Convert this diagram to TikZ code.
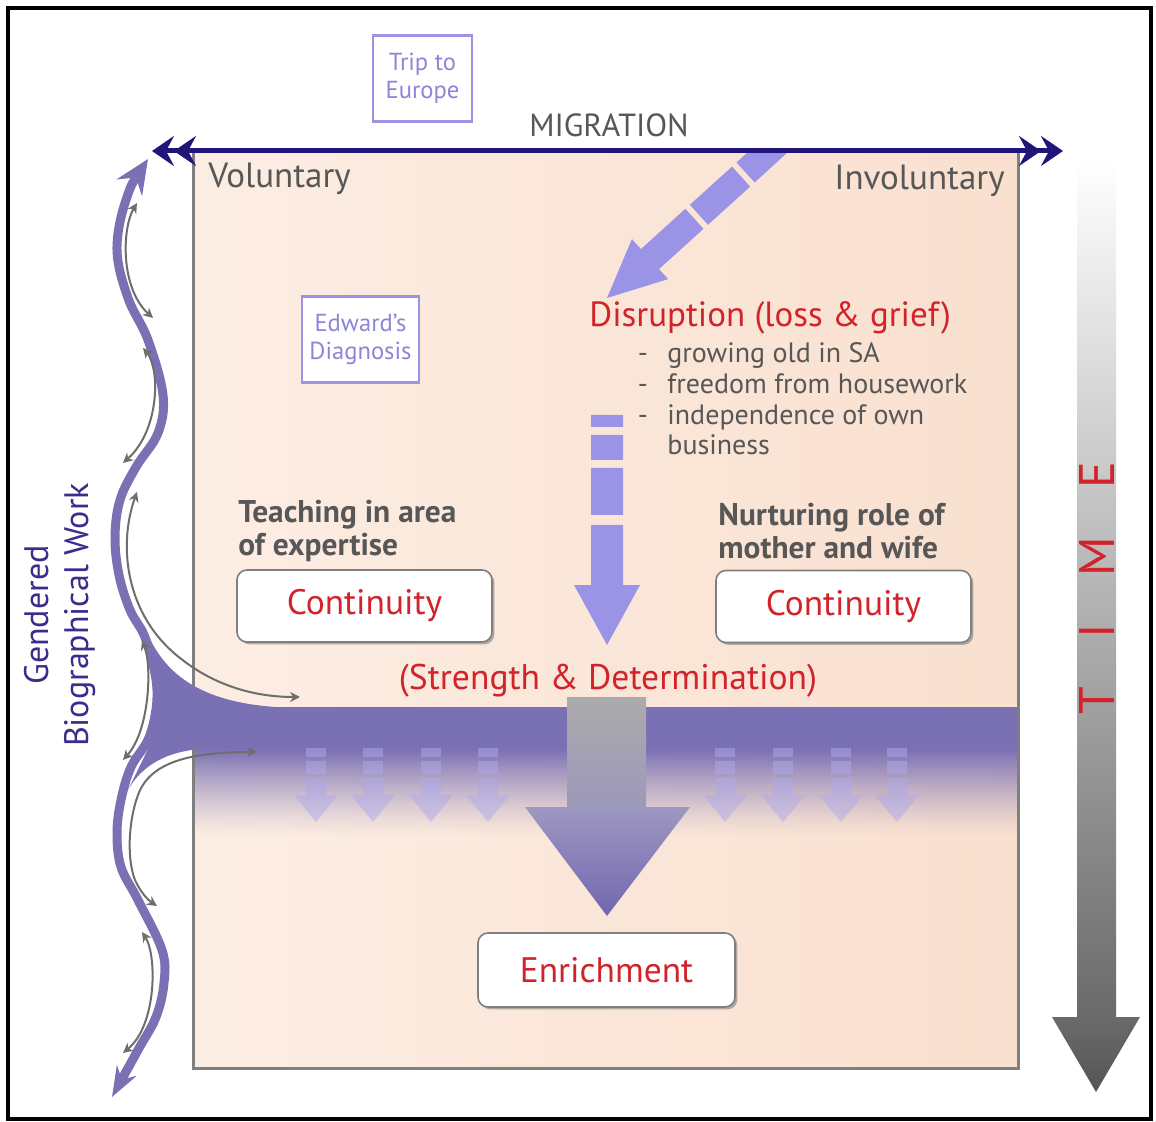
\documentclass[tikz,border=0pt]{standalone}
\usepackage{fontspec}
\setmainfont{PT Sans}
\usetikzlibrary{arrows.meta,shadows}
\definecolor{Navy}{HTML}{22157A}
\definecolor{Lilac}{HTML}{9B94E6}
\definecolor{LilacText}{HTML}{8C86D8}
\definecolor{Band}{HTML}{7A70B4}
\definecolor{Plum}{HTML}{3B2C8E}
\definecolor{Crimson}{HTML}{D2232A}
\definecolor{Slate}{HTML}{575757}
\definecolor{PeachL}{HTML}{FCEDE3}
\definecolor{PeachR}{HTML}{F9E0CF}
\definecolor{Frame}{HTML}{7F7F7F}
\definecolor{Steel}{HTML}{6E6E6E}
\definecolor{ShaftTop}{HTML}{ABABAB}
\definecolor{ShaftLow}{HTML}{9C98BA}
\definecolor{HeadTop}{HTML}{9D98C2}
\definecolor{HeadLow}{HTML}{7266B0}
\definecolor{TimeGray}{HTML}{6A6A6A}
\definecolor{TimeDark}{HTML}{555555}

\begin{document}
\begin{tikzpicture}[x=0.5pt,y=-0.5pt,
  every node/.style={inner sep=0pt,align=center},
  note/.style={draw=Lilac,line width=1.4pt,fill=white,text=LilacText,font=\fontsize{12.3}{14}\selectfont,minimum height=43pt},
  cbox/.style={draw=Frame,line width=0.8pt,rounded corners=5pt,fill=white,text=Crimson,font=\fontsize{17.7}{20}\selectfont,minimum width=127.5pt,minimum height=36pt,drop shadow={shadow xshift=1.2pt,shadow yshift=-1.2pt,fill=gray,opacity=0.6}},
  redtxt/.style={text=Crimson,font=\fontsize{17.5}{20}\selectfont},
  side/.style={text=Slate,font=\fontsize{17.5}{20}\selectfont},
  tag/.style={text=Slate,font=\bfseries\fontsize{15.7}{16.5}\selectfont,align=left,anchor=west},
  lst/.style={text=Slate,font=\fontsize{14}{16}\selectfont},
  link/.style={Steel,line width=1pt,arrows={Stealth[length=5pt,width=5pt]-Stealth[length=5pt,width=5pt]}}]
  \useasboundingbox (0,0) rectangle (1156,1122);
  \fill[white] (0,0) rectangle (1156,1122);
  \draw[line width=1.6pt] (8,8) rectangle (1151,1119);

  \shade[left color=PeachL,right color=PeachR] (193,152) rectangle (1018,1068);
  \fill[Band] (195,707) rectangle (1017,749);
  \foreach \i in {0,...,43}{
    \fill[Band,opacity={(1-\i/44)^1.3}] (195,748+2*\i) rectangle (1017,750.2+2*\i);
  }
  \draw[Frame,line width=1.5pt] (193,152) rectangle (1018,1068);

  \foreach \x in {316,373,431,488,725,783,841,897}{
    \fill[Lilac!80!white,opacity=0.5] (\x-10,748) rectangle (\x+10,757) (\x-10,761) rectangle (\x+10,774)
      (\x-10,778) -- (\x-10,795) -- (\x-22,795) -- (\x,822) -- (\x+22,795) -- (\x+10,795) -- (\x+10,778) -- cycle;
  }
  \shade[top color=ShaftTop,bottom color=ShaftLow] (567,697) rectangle (646,808);
  \shade[top color=HeadTop,bottom color=HeadLow] (525,807) -- (690,807) -- (607,916) -- cycle;

  \fill[Lilac] (591,415) rectangle (623,427) (591,435) rectangle (623,460) (591,468) rectangle (623,515) (591,525) rectangle (623,586);
  \fill[Lilac] (574,585) -- (640,585) -- (607,645) -- cycle;
  \begin{scope}
    \clip (193,154) rectangle (1018,1068);
    \draw[Lilac,line width=13.5pt] (650,259.1) -- (694.4,218.8) (698.9,214.8) -- (741.1,176.6) (745.6,172.5) -- (780,141);
    \fill[Lilac] (607,298) -- (631.9,239.1) -- (668.1,279.1) -- cycle;
  \end{scope}

  \fill[Band] (144,625) .. controls (160,668) and (192,701) .. (275,707) -- (275,748) -- (215,748)
    .. controls (175,749) and (145,760) .. (128,790) -- (150,745) .. controls (160,710) and (157,670) .. (144,625) -- cycle;
  \draw[Band,line width=4.5pt,arrows={Stealth[length=17pt,width=15pt,inset=6pt]-Stealth[length=15pt,width=11pt,inset=5pt]}]
    plot[smooth,tension=0.6] coordinates {(148,159) (126,200) (117,250) (128,298) (148,340) (163,395) (158,433) (136,467)
    (120,500) (115,537) (119,575) (130,610) (146,640) (157,690) (150,735) (131,767) (121,800) (117,833) (121,867)
    (138,900) (162,950) (164,983) (156,1017) (138,1050) (112,1097)};

  \coordinate (g1a) at (137,203);
  \coordinate (g1b) at (153,318);
  \coordinate (g2a) at (143,348);
  \coordinate (g2b) at (123,463);
  \coordinate (g3a) at (137,492);
  \coordinate (g3b) at (300,697);
  \coordinate (g4a) at (142,640);
  \coordinate (g4b) at (123,760);
  \coordinate (g5a) at (257,752);
  \coordinate (g5b) at (157,906);
  \coordinate (g6a) at (142,932);
  \coordinate (g6b) at (123,1053);
  \draw[link] (g1a) .. controls (122,228) and (120,288) .. (g1b);
  \draw[link] (g2a) .. controls (160,368) and (160,430) .. (g2b);
  \draw[link] (g3a) .. controls (118,545) and (125,615) .. (180,658) .. controls (215,686) and (255,697) .. (g3b);
  \draw[link] (g4a) .. controls (152,665) and (150,730) .. (g4b);
  \draw[link] (g5a) .. controls (190,752) and (150,762) .. (138,795) .. controls (128,822) and (127,860) .. (135,880)
    .. controls (141,893) and (148,900) .. (g5b);
  \draw[link] (g6a) .. controls (157,955) and (157,1025) .. (g6b);

  \shade[top color=white,bottom color=TimeGray] (1077,160) rectangle (1116,1018);
  \shade[top color=TimeGray,bottom color=TimeDark] (1052,1017) -- (1140,1017) -- (1096,1092) -- cycle;

  \coordinate (mwest) at (152,151);
  \coordinate (meast) at (1063,151);
  \draw[Navy,line width=2.5pt,arrows={{Stealth[length=11pt,width=15pt,inset=4pt]Stealth[length=11pt,width=15pt,inset=4pt]}-{Stealth[length=11pt,width=15pt,inset=4pt]Stealth[length=11pt,width=15pt,inset=4pt]}}] (mwest) -- (meast);

  \node[side,font=\fontsize{16}{18}\selectfont,anchor=base] (mig) at (609,137) {MIGRATION};
  \node[side,anchor=base west] (vol) at (208,188) {Voluntary};
  \node[side,anchor=base east] (invol) at (1005,190) {Involuntary};
  \node[note,minimum width=49.5pt] (trip) at (422.5,78.5) {Trip to\\Europe};
  \node[note,minimum width=58.5pt] (edward) at (360.5,339.5) {Edward's\\Diagnosis};

  \node[redtxt,anchor=base west] (disr) at (589,327) {Disruption (loss \& grief)};
  \foreach \t [count=\k from 0] in {growing old in SA,freedom from housework,independence of own}{
    \node[lst,anchor=base] (dash\k) at (643,363+31*\k) {-};
    \node[lst,anchor=base west] (item\k) at (667,363+31*\k) {\t};
  }
  \node[lst,anchor=base west] (item3) at (667,455) {business};

  \node[tag] (teach) at (238,531) {Teaching in area\\of expertise};
  \node[tag] (nurture) at (718,531) {Nurturing role of\\mother and wife};
  \node[cbox] (cont1) at (364.5,606) {Continuity};
  \node[cbox] (cont2) at (843.5,606.5) {Continuity};
  \node[redtxt,font=\fontsize{17.8}{20}\selectfont,anchor=base] (strength) at (608,689) {(Strength \& Determination)};
  \node[cbox,minimum width=128.5pt,minimum height=37pt] (enrich) at (606.5,970) {Enrichment};

  \node[rotate=90,text=Crimson,font=\fontsize{25}{25}\selectfont] (time) at (1097,588) {T\hspace{24pt}I\hspace{24pt}M\hspace{24pt}E};
  \node[rotate=90,text=Plum,font=\fontsize{17}{20}\selectfont] (gbw) at (60,615) {Gendered\\Biographical Work};
\end{tikzpicture}
\end{document}
